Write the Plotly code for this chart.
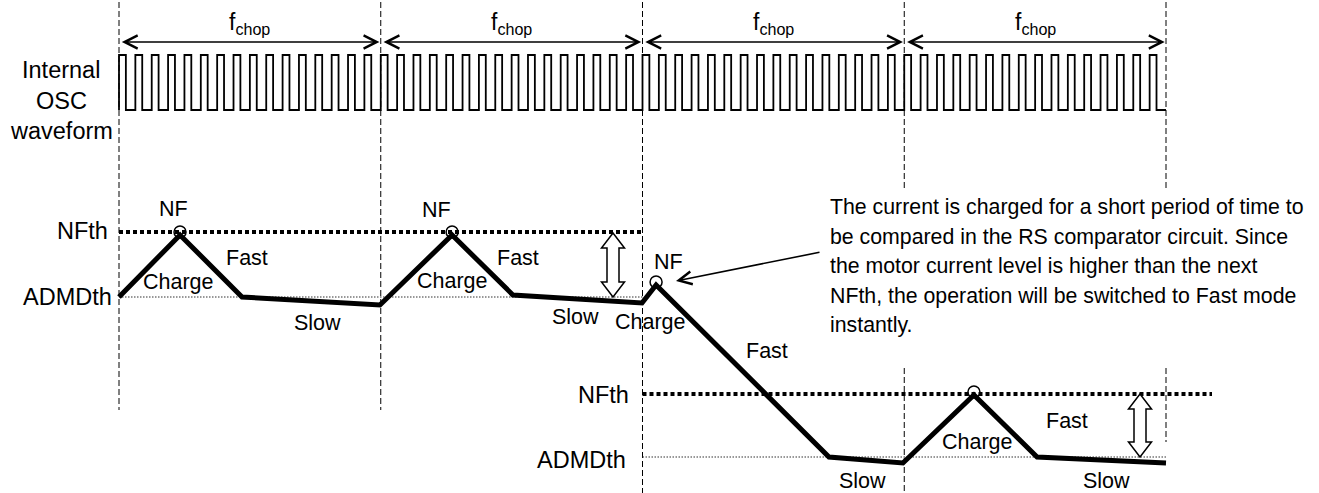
import plotly.graph_objects as go

W, H = 1319, 493

# ---------------- data ----------------
# time axis in internal OSC clock cycles (16 cycles per chopping period)
chop_bounds = [0, 16, 32, 48, 64]
osc_cycles = 64
osc_duty = 0.42
osc_high, osc_low = 438, 383

# current levels (arbitrary units)
nfth_upper, admdth_upper = 260, 196
nfth_lower, admdth_lower = 99, 36

# motor current waveform (time in clocks, level)
t_current = [0, 3.73, 7.52, 15.95, 20.36, 24.08, 31.97, 32.83, 43.40, 47.92, 52.26, 56.12, 64]
i_current = [196, 258, 196, 188, 258, 198, 190, 208, 36, 30, 98, 36, 30]
peak_idx = [1, 4, 7, 10]

osc_label = ["Internal", "OSC", "waveform"]
fchop_label = "f<sub>chop</sub>"
note_lines = [
    "The current is charged for a short period of time to",
    "be compared in the RS comparator circuit. Since",
    "the motor current level is higher than the next",
    "NFth, the operation will be switched to Fast mode",
    "instantly.",
]

# ---------------- mapping helpers (pixel -> data) ----------------
S = (1166 - 119) / 64.0
def X(px):
    return (px - 119) / S
def Y(py):
    return H - py

FONT = "Arial, Liberation Sans, sans-serif"

# OSC square wave built from the cycle list
osc_t, osc_v = [], []
for k in range(osc_cycles):
    osc_t += [k, k, k + osc_duty, k + osc_duty]
    osc_v += [osc_low, osc_high, osc_high, osc_low]
osc_t.append(osc_cycles)
osc_v.append(osc_low)

fig = go.Figure()
fig.add_trace(go.Scatter(x=osc_t, y=osc_v, mode="lines",
                         line=dict(color="black", width=1.8), hoverinfo="skip"))
fig.add_trace(go.Scatter(x=t_current, y=i_current, mode="lines",
                         line=dict(color="black", width=5), hoverinfo="skip"))

shapes = []
# vertical dashed chop boundaries
vdash = dict(color="black", width=1, dash="6px,3px")
vsegs = [
    (chop_bounds[0], [(2, 410)]),
    (chop_bounds[1], [(2, 410)]),
    (chop_bounds[2], [(2, 493)]),
    (chop_bounds[3], [(2, 188), (368, 493)]),
    (chop_bounds[4], [(2, 188), (368, 442)]),
]
for t, segs in vsegs:
    for a, b in segs:
        shapes.append(dict(type="line", xref="x", yref="y", x0=t, x1=t,
                           y0=Y(a), y1=Y(b), line=vdash, layer="below"))

# threshold lines
shapes.append(dict(type="line", xref="x", yref="y", x0=chop_bounds[0], x1=chop_bounds[2],
                   y0=nfth_upper + 1, y1=nfth_upper + 1,
                   line=dict(color="black", width=4, dash="4px,3px"), layer="below"))
shapes.append(dict(type="line", xref="x", yref="y", x0=chop_bounds[2], x1=X(1212),
                   y0=nfth_lower, y1=nfth_lower,
                   line=dict(color="black", width=4, dash="4px,3px"), layer="below"))
shapes.append(dict(type="line", xref="x", yref="y", x0=chop_bounds[0], x1=chop_bounds[2],
                   y0=admdth_upper, y1=admdth_upper,
                   line=dict(color="#333", width=1.2, dash="1.5px,1.5px"), layer="below"))
shapes.append(dict(type="line", xref="x", yref="y", x0=chop_bounds[2], x1=chop_bounds[4],
                   y0=admdth_lower, y1=admdth_lower,
                   line=dict(color="#333", width=1.2, dash="1.5px,1.5px"), layer="below"))

# NF circles
for i in peak_idx:
    shapes.append(dict(type="circle", xref="x", yref="y", xsizemode="pixel", ysizemode="pixel",
                       xanchor=t_current[i], yanchor=i_current[i] + 3,
                       x0=-6, x1=6, y0=-6, y1=6,
                       line=dict(color="black", width=1.5), layer="above"))

# hollow double arrows
def hollow_arrow(xpx, top, bot):
    xc = X(xpx)
    hs, hh, hl = 6 / S, 11.5 / S, 15
    pts = [(xc - hs, top - hl), (xc - hh, top - hl), (xc, top), (xc + hh, top - hl),
           (xc + hs, top - hl), (xc + hs, bot + hl), (xc + hh, bot + hl), (xc, bot),
           (xc - hh, bot + hl), (xc - hs, bot + hl)]
    path = "M" + " L".join(f"{a:.4f},{b:.2f}" for a, b in pts) + " Z"
    return dict(type="path", xref="x", yref="y", path=path, fillcolor="white",
                line=dict(color="black", width=1.5), layer="above")

shapes.append(hollow_arrow(613, nfth_upper, admdth_upper))
shapes.append(hollow_arrow(1140, nfth_lower, admdth_lower))

ann = []
def txt(text, px, py, xanchor="center", size=21):
    ann.append(dict(text=text, x=X(px), y=Y(py), xref="x", yref="y", showarrow=False,
                    xanchor=xanchor, yanchor="middle",
                    font=dict(family=FONT, size=size, color="black")))

# OSC label
for line, py in zip(osc_label, [70, 101, 131]):
    txt(line, 61, py, size=23.5)

# fchop labels + double arrows
for a, b in zip(chop_bounds[:-1], chop_bounds[1:]):
    ann.append(dict(text=fchop_label, x=(a + b) / 2, y=Y(23), xref="x", yref="y",
                    showarrow=False, font=dict(family=FONT, size=23, color="black")))
    ann.append(dict(text="", x=b - 0.08, y=Y(42), ax=a + 0.08, ay=Y(42),
                    xref="x", yref="y", axref="x", ayref="y", showarrow=True,
                    arrowhead=5, startarrowhead=5, arrowside="end+start",
                    arrowsize=1.6, startarrowsize=1.6, arrowwidth=1.6, arrowcolor="black",
                    standoff=0, startstandoff=0))

# threshold labels
txt("NFth", 110, 231, "right", 23.5)
txt("ADMDth", 114, 297, "right", 23.5)
txt("NFth", 631, 395, "right", 23.5)
txt("ADMDth", 628, 460, "right", 23.5)

# phase labels
phase_labels = [
    ("NF", 173, 209), ("NF", 436, 210), ("NF", 668, 262),
    ("Fast", 247, 258), ("Fast", 518, 258), ("Fast", 767, 351), ("Fast", 1067, 421),
    ("Charge", 178, 282), ("Charge", 452, 281), ("Charge", 650, 322), ("Charge", 977, 442),
    ("Slow", 317, 323), ("Slow", 575, 317), ("Slow", 862, 481), ("Slow", 1106, 481),
]
for t, px, py in phase_labels:
    txt(t, px, py, size=21.5)

# note paragraph
for line, py in zip(note_lines, [207, 236.5, 266, 295.5, 325]):
    txt(line, 828, py, "left", 21.3)

# note arrow
ann.append(dict(text="", x=X(676), y=Y(281), ax=X(821), ay=Y(252),
                xref="x", yref="y", axref="x", ayref="y", showarrow=True,
                arrowhead=5, arrowsize=1.6, arrowwidth=1.6, arrowcolor="black", standoff=0))

fig.update_layout(
    width=W, height=H, margin=dict(l=0, r=0, t=0, b=0),
    paper_bgcolor="white", plot_bgcolor="white", showlegend=False,
    xaxis=dict(range=[X(0), X(W)], visible=False, fixedrange=True),
    yaxis=dict(range=[0, H], visible=False, fixedrange=True),
    shapes=shapes, annotations=ann,
)
fig.write_html("out.html", config={"displayModeBar": False},
               post_script="document.body.style.margin='0';document.body.style.overflow='hidden';")
